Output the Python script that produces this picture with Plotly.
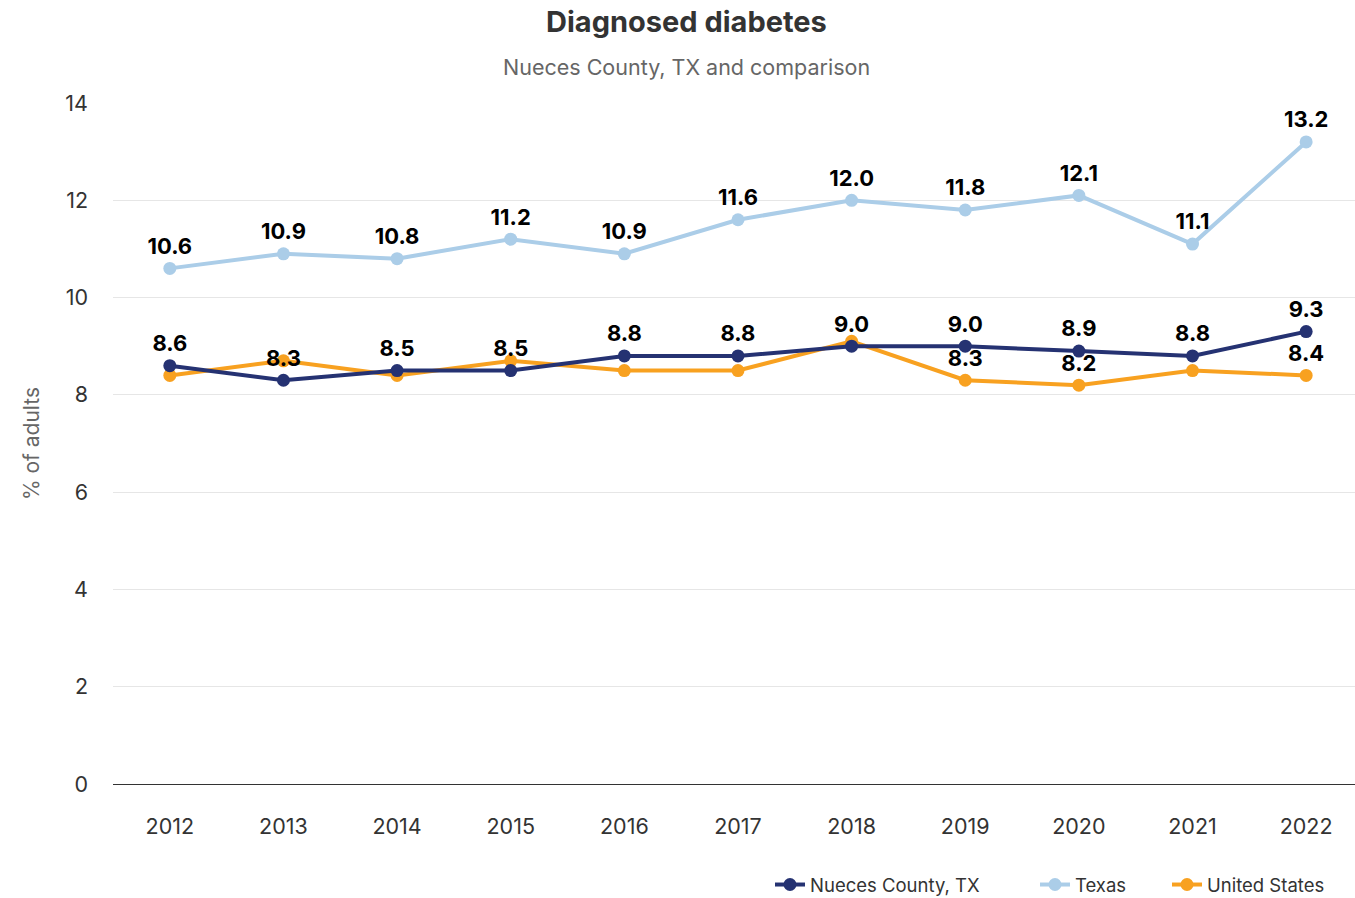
import plotly.graph_objects as go

years = ["2012", "2013", "2014", "2015", "2016", "2017", "2018", "2019", "2020", "2021", "2022"]
nueces = [8.6, 8.3, 8.5, 8.5, 8.8, 8.8, 9.0, 9.0, 8.9, 8.8, 9.3]
texas = [10.6, 10.9, 10.8, 11.2, 10.9, 11.6, 12.0, 11.8, 12.1, 11.1, 13.2]
us = [8.4, 8.7, 8.4, 8.7, 8.5, 8.5, 9.1, 8.3, 8.2, 8.5, 8.4]
us_labelled_years = ["2019", "2020", "2022"]

FONT = "Inter, Roboto, 'Open Sans', sans-serif"
W, H = 1355, 898
PLOT_L, PLOT_T, PLOT_B = 113, 103, 784


def labels(values, only=None):
    return [f"{v:.1f}" if (only is None or y in only) else "" for y, v in zip(years, values)]


fig = go.Figure()

# drawn back to front; each series gets its own legend box so the
# entries can be spaced along the bottom edge
series = [
    ("Texas", texas, "#abcde8", labels(texas), "legend2"),
    ("United States", us, "#f8a120", labels(us, us_labelled_years), "legend3"),
    ("Nueces County, TX", nueces, "#253272", labels(nueces), "legend"),
]
for name, vals, color, txt, leg in series:
    fig.add_trace(go.Scatter(
        x=years, y=vals, name=name, mode="lines+markers+text",
        line=dict(color=color, width=4),
        marker=dict(color=color, size=13),
        text=txt, textposition="top center",
        textfont=dict(family=FONT, size=22, color="#000000", weight="bold"),
        cliponaxis=False, legend=leg,
    ))

legend_common = dict(
    orientation="h", yref="container", y=(H - 885) / H, yanchor="middle",
    xref="container", xanchor="left",
    font=dict(size=18.5, color="#333333"), itemwidth=30,
    bgcolor="rgba(0,0,0,0)",
)

fig.update_layout(
    width=W, height=H,
    margin=dict(l=PLOT_L, r=0, t=PLOT_T, b=H - PLOT_B, autoexpand=False),
    paper_bgcolor="white", plot_bgcolor="white",
    font=dict(family=FONT, size=21, color="#333333"),
    showlegend=True,
    legend=dict(legend_common, x=770 / W),
    legend2=dict(legend_common, x=1035 / W),
    legend3=dict(legend_common, x=1167 / W),
    xaxis=dict(
        type="category", range=[-0.5, 10.43], showgrid=False, showline=True,
        linecolor="#333333", linewidth=1, ticks="",
        tickfont=dict(size=21.5, color="#333333"), ticklabelstandoff=23,
    ),
    yaxis=dict(
        range=[0, 14], dtick=2, showgrid=True, gridcolor="#e6e6e6", gridwidth=1,
        zeroline=False, ticks="", tickfont=dict(size=21.5, color="#333333"),
        ticklabelstandoff=24,
        title=dict(text="% of adults", font=dict(size=21, color="#666666"), standoff=20),
    ),
)

fig.add_annotation(text="<b>Diagnosed diabetes</b>", xref="paper", yref="paper",
                   x=(686 - PLOT_L) / (W - PLOT_L), y=(PLOT_B - 22) / (PLOT_B - PLOT_T),
                   xanchor="center", yanchor="middle", showarrow=False,
                   font=dict(size=29, color="#333333"))
fig.add_annotation(text="Nueces County, TX and comparison", xref="paper", yref="paper",
                   x=(686 - PLOT_L) / (W - PLOT_L), y=(PLOT_B - 67) / (PLOT_B - PLOT_T),
                   xanchor="center", yanchor="middle", showarrow=False,
                   font=dict(size=21.5, color="#666666"))

fig.write_html("out.html")
